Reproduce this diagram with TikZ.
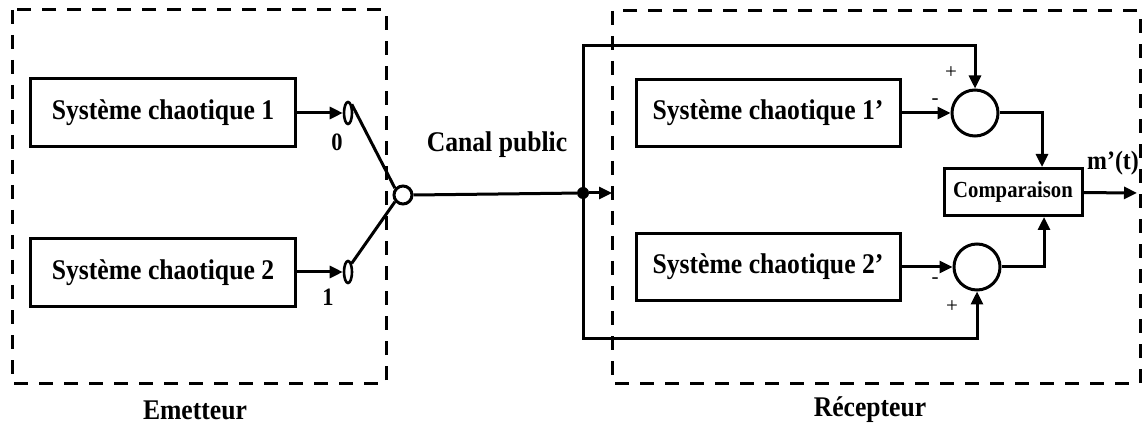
\documentclass[tikz,border=0pt]{standalone}
\usepackage{fontspec}
\setmainfont{Liberation Serif}
\newfontfamily\gras{Liberation Serif}[FakeStretch=0.9]
\usepackage{tikz}
\usetikzlibrary{arrows.meta,shapes.geometric}
\definecolor{ink}{HTML}{000000}
\definecolor{paper}{HTML}{FFFFFF}
\tikzset{
  base/.style={draw=ink, line width=3pt},
  zone/.style={draw=ink, line width=3pt, dash pattern=on 14pt off 11pt},
  fleche/.style={base, -{Triangle[length=13pt, width=12pt]}},
  bloc/.style={
    base,
    rectangle,
    minimum width=265pt,
    minimum height=68pt,
    inner sep=0pt,
    font=\gras\bfseries\fontsize{28.5}{32}\selectfont
  },
  contact/.style={base, ellipse, line width=2.6pt, minimum width=8pt, minimum height=22pt, inner sep=0pt},
  somme/.style={base, circle, minimum size=46pt, inner sep=0pt},
  dot/.style={circle, fill=ink, minimum size=12pt, inner sep=0pt},
  tag/.style={font=\gras\bfseries\fontsize{28.5}{32}\selectfont, inner sep=0pt},
  chiffre/.style={font=\gras\bfseries\fontsize{25}{28}\selectfont, inner sep=0pt},
  signe/.style={font=\fontsize{21}{24}\selectfont, inner sep=0pt}
}

\begin{document}
\begin{tikzpicture}[x=1pt, y=-1pt]
  \useasboundingbox[fill=paper] (0,0) rectangle (1142,427);

  % zones
  \draw[zone] (12,10) rectangle (386,383);
  \draw[zone] (612,11) rectangle (1140,383);
  \node[tag] (emet) at (195,410) {Emetteur};
  \node[tag] (recep) at (870,410) {Récepteur};

  % emetteur
  \node[bloc] (sys1) at (163,113) {Système chaotique 1};
  \node[bloc] (sys2) at (163,273) {Système chaotique 2};
  \node[contact] (c0) at (348,113) {};
  \node[contact] (c1) at (348,272) {};
  \node[chiffre] (lab0) at (337,142) {0};
  \node[chiffre] (lab1) at (328,297) {1};
  \node[base, circle, minimum size=18pt, inner sep=0pt] (sw) at (403,195) {};

  \draw[fleche] (sys1) -- (c0);
  \draw[fleche] (sys2.east |- c1) -- (c1);
  \draw[base] (c0.north east) -- (sw.140);
  \draw[base] (c1.north east) -- (sw.220);

  % canal
  \node[tag] (canal) at (497,145) {Canal public};
  \node[dot] (jonc) at (583,193) {};
  \coordinate (entree) at (612,193);
  \draw[base] (sw.east) -- (jonc);
  \draw[fleche] (jonc) -- (entree);

  % recepteur
  \node[bloc, minimum width=264pt, minimum height=67pt] (sys1p) at (768,113) {Système chaotique 1’};
  \node[bloc, minimum width=264pt, minimum height=67pt] (sys2p) at (768,267) {Système chaotique 2’};
  \node[somme] (sum1) at (975,113) {};
  \node[somme] (sum2) at (977,267) {};
  \node[base, rectangle, minimum width=138pt, minimum height=47pt, inner sep=0pt,
        font=\gras\bfseries\fontsize{23}{26}\selectfont] (comp) at (1013,192) {Comparaison};
  \node[tag, font=\gras\bfseries\fontsize{26.5}{30}\selectfont] (msig) at (1113,163) {m’(t)};
  \coordinate (sortie) at (1137,193);

  \node[signe] (p1) at (951,73) {+};
  \node[signe] (m1) at (935,102) {-};
  \node[signe] (m2) at (935,281) {-};
  \node[signe] (p2) at (952,307) {+};

  \draw[fleche] (jonc.center) -- ++(0,-147) -| (sum1.north);
  \draw[fleche] (jonc.center) -- ++(0,145) -| (sum2.south);
  \draw[fleche] (sys1p) -- (sum1);
  \draw[fleche] (sys2p) -- (sum2);
  \draw[fleche] (sum1) -| ([xshift=29pt]comp.north);
  \draw[fleche] (sum2) -| ([xshift=31pt]comp.south);
  \draw[fleche] (comp) -- (sortie);
\end{tikzpicture}
\end{document}
